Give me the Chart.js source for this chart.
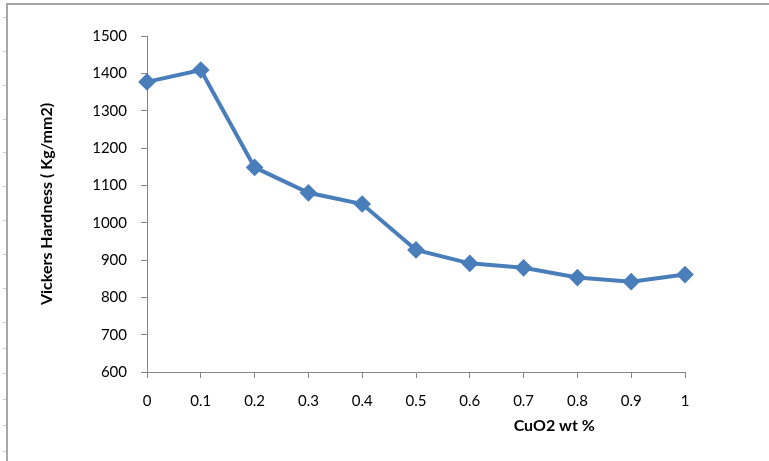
<!DOCTYPE html>
<html>
<head>
<meta charset="utf-8">
<script src="https://cdn.jsdelivr.net/npm/chart.js@4"></script>
<style>
  html, body { margin: 0; padding: 0; background: #fff; }
  #wrap { position: relative; width: 769px; height: 461px; }
</style>
</head>
<body>
<div id="wrap"><canvas id="chart_hardness" width="769" height="461"></canvas></div>
<script>
// dados
const cuoLabels = ['0', '0.1', '0.2', '0.3', '0.4', '0.5', '0.6', '0.7', '0.8', '0.9', '1'];
const hardness = [1377, 1409, 1148, 1080, 1050, 927, 891, 879, 853, 842, 861];
const yMin = 600;
const yMax = 1500;
const yStep = 100;
const xTitle = 'CuO2 wt %';
const yTitle = 'Vickers Hardness ( Kg/mm2)';

const axisGrey = '#868686';
const lineBlue = '#4a7ebb';
const tickFont = { family: 'Lato', size: 15 };

// borda da planilha + títulos dos eixos
const framePlugin = {
  id: 'frame',
  beforeDraw(chart) {
    const ctx = chart.ctx;
    ctx.save();
    ctx.strokeStyle = '#a6a6a6';
    ctx.lineWidth = 2;
    ctx.beginPath();
    ctx.moveTo(769, 4);
    ctx.lineTo(7, 4);
    ctx.lineTo(7, 461);
    ctx.stroke();
    ctx.strokeStyle = '#c5cbd8';
    ctx.lineWidth = 1;
    [17, 51, 85, 119, 152, 186, 220, 254, 288, 322, 348, 373, 399, 425, 451].forEach(y => {
      ctx.beginPath();
      ctx.moveTo(3, y + 0.5);
      ctx.lineTo(6, y + 0.5);
      ctx.stroke();
    });
    ctx.restore();
  },
  afterDraw(chart) {
    const ctx = chart.ctx;
    const x = chart.scales.x;
    const y = chart.scales.y;
    ctx.save();
    ctx.fillStyle = '#000';
    ctx.font = 'bold 16px Lato';
    ctx.textAlign = 'center';
    ctx.textBaseline = 'middle';
    ctx.fillText(xTitle, x.left + (x.right - x.left) * 0.757, 426);
    ctx.translate(47, (y.top + y.bottom) / 2);
    ctx.rotate(-Math.PI / 2);
    ctx.fillText(yTitle, 0, 0);
    ctx.restore();
  }
};

new Chart(document.getElementById('chart_hardness'), {
  type: 'line',
  data: {
    labels: cuoLabels,
    datasets: [{
      label: 'Hardness',
      data: hardness,
      borderColor: lineBlue,
      backgroundColor: lineBlue,
      borderWidth: 4,
      pointStyle: 'rectRot',
      pointRadius: 6,
      pointHoverRadius: 6,
      tension: 0,
    }],
  },
  options: {
    responsive: false,
    animation: false,
    layout: { padding: { left: 0, top: 36, right: 84, bottom: 0 } },
    plugins: { legend: { display: false }, tooltip: { enabled: false } },
    scales: {
      x: {
        offset: false,
        grid: { drawOnChartArea: false, drawTicks: true, tickLength: 6, color: axisGrey },
        border: { color: axisGrey, width: 1 },
        ticks: { color: '#000', font: tickFont, padding: 14, maxRotation: 0, autoSkip: false },
        afterFit(scale) { scale.height = 89; },
      },
      y: {
        min: yMin,
        max: yMax,
        grid: { drawOnChartArea: false, drawTicks: true, tickLength: 6, color: axisGrey },
        border: { color: axisGrey, width: 1 },
        ticks: {
          stepSize: yStep,
          color: '#000',
          font: tickFont,
          padding: 14,
          callback: (v) => String(v),
        },
        afterFit(scale) { scale.width = 147; },
      },
    },
  },
  plugins: [framePlugin],
});
</script>
</body>
</html>
